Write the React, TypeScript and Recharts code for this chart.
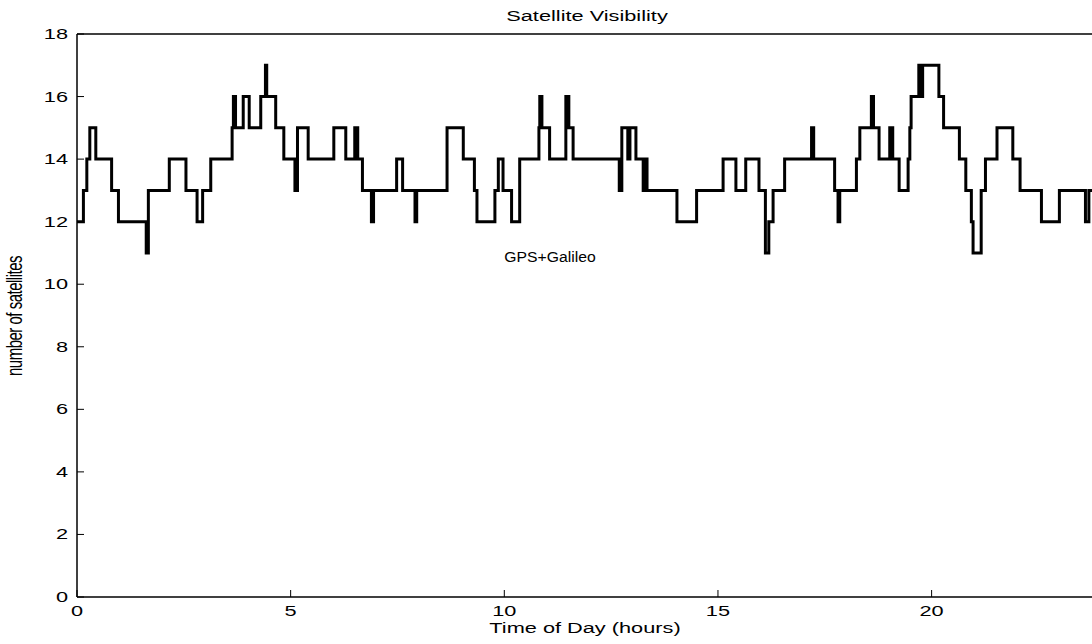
import React from 'react';
import { LineChart, Line, XAxis, YAxis } from 'recharts';

// step times (hours) and the satellite count that holds from each time on
const stepHours = [
  0, 0.15, 0.23, 0.3, 0.44, 0.81, 0.97, 1.62, 1.67, 2.16, 2.55, 2.81, 2.94, 3.13, 3.63, 3.66, 3.71, 3.89, 4.03,
  4.3, 4.41, 4.44, 4.65, 4.84, 5.1, 5.16, 5.41, 6.01, 6.29, 6.5, 6.57, 6.68, 6.89, 6.94, 7.48, 7.62, 7.91, 7.95,
  8.66, 9.04, 9.3, 9.36, 9.78, 9.86, 9.97, 10.17, 10.36, 10.81, 10.83, 10.88, 11.06, 11.44, 11.51, 11.61, 12.69,
  12.75, 12.89, 12.94, 13.08, 13.25, 13.29, 13.34, 14.04, 14.5, 15.12, 15.42, 15.65, 15.96, 16.11, 16.19, 16.29,
  16.56, 17.19, 17.24, 17.73, 17.81, 17.85, 18.24, 18.32, 18.59, 18.64, 18.77, 19.02, 19.09, 19.24, 19.45, 19.49,
  19.52, 19.7, 19.74, 19.79, 20.17, 20.28, 20.65, 20.8, 20.93, 20.97, 21.16, 21.26, 21.53, 21.9, 22.07, 22.57,
  22.99, 23.6, 23.68, 23.8,
];
const satCounts = [
  12, 13, 14, 15, 14, 13, 12, 11, 13, 14, 13, 12, 13, 14, 15, 16, 15, 16, 15,
  16, 17, 16, 15, 14, 13, 15, 14, 15, 14, 15, 14, 13, 12, 13, 14, 13, 12, 13,
  15, 14, 13, 12, 13, 14, 13, 12, 14, 15, 16, 15, 14, 16, 15, 14, 13,
  15, 14, 15, 14, 13, 14, 13, 12, 13, 14, 13, 14, 13, 11, 12, 13,
  14, 15, 14, 13, 12, 13, 14, 15, 16, 15, 14, 15, 14, 13, 14, 15,
  16, 17, 16, 17, 16, 15, 14, 13, 12, 11, 13, 14, 15, 14, 13, 12,
  13, 12, 13, 13,
];
const xTicks = [0, 5, 10, 15, 20];
const yTicks = [0, 2, 4, 6, 8, 10, 12, 14, 16, 18];

const data = stepHours.map((h, i) => ({ h, n: satCounts[i] }));

const FONT = '"Liberation Sans", Arial, Helvetica, sans-serif';
const STRETCH = 1.45; // the figure is stretched wider than tall

const XTick = (props: any) => (
  <text
    transform={`translate(${props.x},${props.y}) scale(${STRETCH},1)`}
    textAnchor="middle"
    dy={11}
    fontSize={15}
    fontFamily={FONT}
    fill="#000"
  >
    {props.payload.value}
  </text>
);

const YTick = (props: any) => (
  <text
    transform={`translate(${props.x},${props.y}) scale(${STRETCH},1)`}
    textAnchor="end"
    dy={5}
    fontSize={15}
    fontFamily={FONT}
    fill="#000"
  >
    {props.payload.value}
  </text>
);

const axisLine = { stroke: '#000', strokeWidth: 1.5 };
const tickLine = { stroke: '#000', strokeWidth: 1 };

export default function App() {
  return (
    <div
      style={{
        position: 'fixed',
        left: 0,
        top: 0,
        width: 1092,
        height: 644,
        overflow: 'hidden',
        background: '#fff',
      }}
    >
      <LineChart width={1100} height={644} data={data} margin={{ top: 33, right: 5, bottom: 17, left: 17 }}>
        <XAxis
          dataKey="h"
          type="number"
          domain={[0, 23.8]}
          ticks={xTicks}
          allowDataOverflow
          height={30}
          tickSize={-7}
          tickMargin={15}
          axisLine={axisLine}
          tickLine={tickLine}
          tick={<XTick />}
        />
        <XAxis
          xAxisId="top"
          orientation="top"
          type="number"
          domain={[0, 23.8]}
          ticks={xTicks}
          allowDataOverflow
          height={1}
          tickSize={-7}
          axisLine={axisLine}
          tickLine={tickLine}
          tick={false}
        />
        <YAxis
          type="number"
          domain={[0, 18]}
          ticks={yTicks}
          allowDataOverflow
          width={60}
          tickSize={-7}
          tickMargin={16}
          axisLine={axisLine}
          tickLine={tickLine}
          tick={<YTick />}
        />
        <YAxis
          yAxisId="right"
          orientation="right"
          type="number"
          domain={[0, 18]}
          ticks={yTicks}
          allowDataOverflow
          width={1}
          tickSize={-7}
          axisLine={axisLine}
          tickLine={tickLine}
          tick={false}
        />
        <Line
          dataKey="n"
          type="stepAfter"
          stroke="#000"
          strokeWidth={3}
          dot={false}
          isAnimationActive={false}
        />
      </LineChart>
      <svg
        width={1092}
        height={644}
        style={{ position: 'absolute', left: 0, top: 0, pointerEvents: 'none' }}
        fontFamily={FONT}
        fontSize={15}
      >
        <text transform={`translate(587,21) scale(${STRETCH},1)`} textAnchor="middle" fill="#000">
          Satellite Visibility
        </text>
        <text transform={`translate(585,633) scale(${STRETCH},1)`} textAnchor="middle" fill="#000">
          Time of Day (hours)
        </text>
        <text
          transform={`translate(22,316) scale(${STRETCH},1) rotate(-90)`}
          textAnchor="middle"
          fill="#000"
          letterSpacing={-0.5}
        >
          number of satellites
        </text>
        <text transform="translate(550,262) scale(1.05,1)" textAnchor="middle" fill="#000">
          GPS+Galileo
        </text>
      </svg>
    </div>
  );
}
